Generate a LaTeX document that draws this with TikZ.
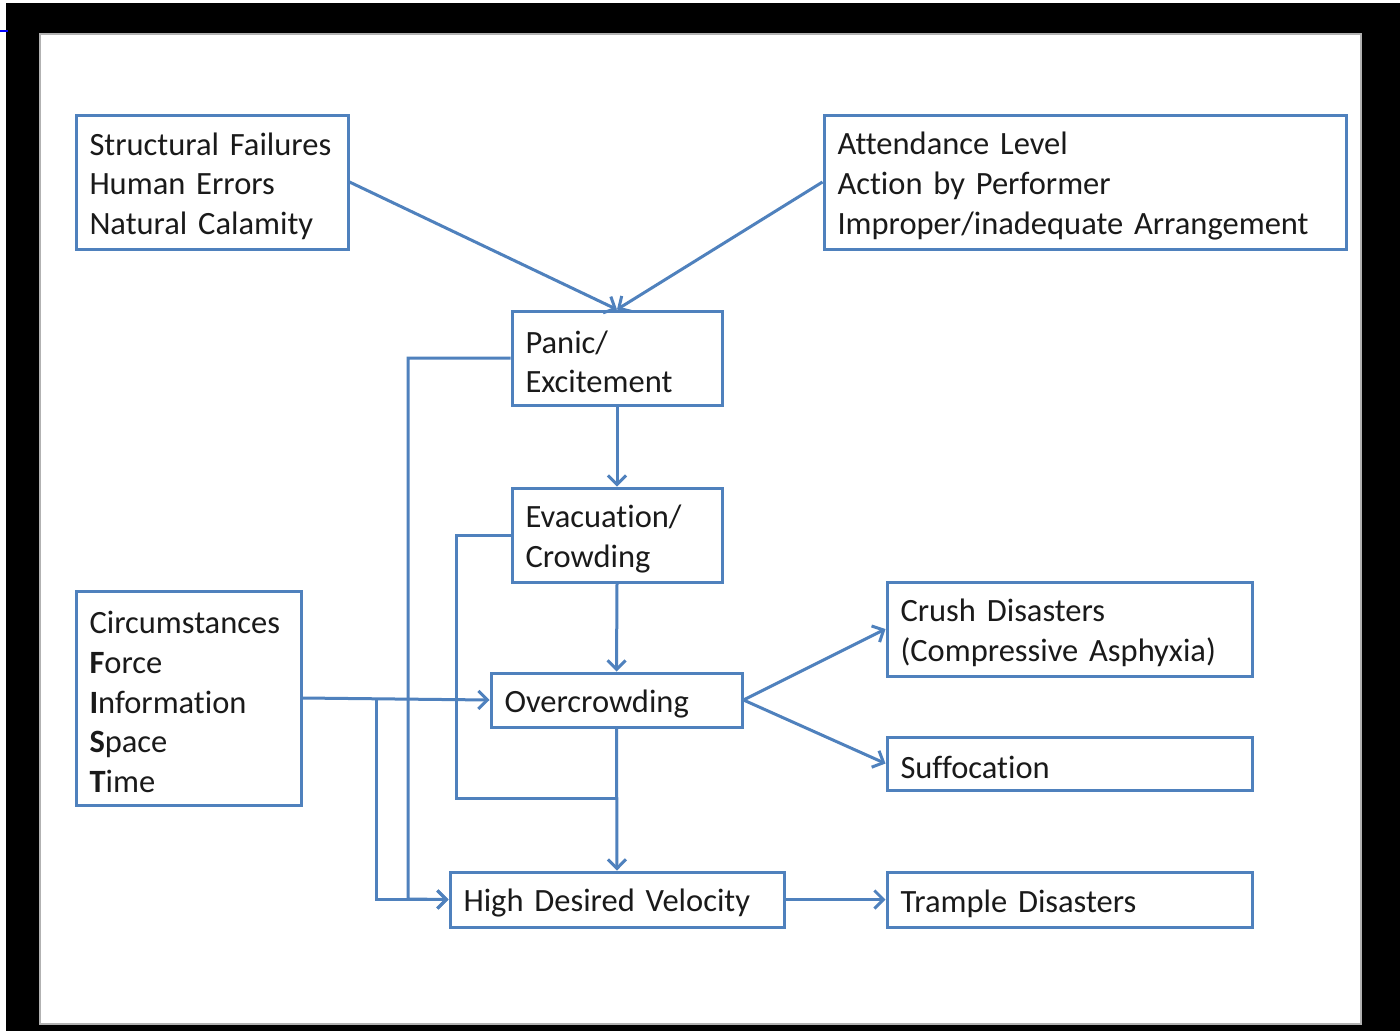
\documentclass[tikz,border=0pt]{standalone}
\usepackage{fontspec}
\setmainfont{Carlito}[Ligatures=NoCommon]
\usetikzlibrary{arrows.meta}
\definecolor{boxblue}{HTML}{4F81BD}
\definecolor{txt}{HTML}{1A1A1A}
\tikzset{
  box/.style={draw=boxblue, line width=3pt, fill=white, inner xsep=12pt, inner ysep=0pt,
    align=left, text=txt, font=\fontsize{32.5}{39.6}\selectfont},
  conn/.style={draw=boxblue, line width=3pt},
  arr/.style={conn, -{Straight Barb[length=9pt,width=18pt,line width=3pt]}}
}
\newcommand{\mkbox}[6]{% name, x1, y1, x2, y2, text
  \pgfmathsetmacro{\bw}{#4-#2}%
  \pgfmathsetmacro{\bh}{#5-#3}%
  \pgfmathsetmacro{\tw}{#4-#2-27}%
  \pgfmathsetmacro{\cx}{(#2+#4)/2}%
  \pgfmathsetmacro{\cy}{(#3+#5)/2+2}%
  \node[box, minimum width=\bw pt, minimum height=\bh pt, text width=\tw pt]
    (#1) at (\cx,\cy) {\hyphenpenalty=10000\rule{0pt}{30.5pt}#6};}
\begin{document}
\begin{tikzpicture}[x=1pt,y=-1pt]
\useasboundingbox (0,0) rectangle (1400,1031);
\fill[white] (0,0) rectangle (1400,1031);
\fill[black] (6,3) rectangle (1400,1031);
\draw[blue, line width=1.2pt] (0,31) -- (8,31);
\filldraw[fill=white, draw=gray!60, line width=2pt] (40,34) rectangle (1361,1024);

\mkbox{b1}{76}{113}{348}{247}{Structural~Failures\\Human Errors\\Natural Calamity}
\mkbox{b2}{824}{113}{1346}{247}{Attendance Level\\Action by Performer\\Improper/inadequate Arrangement}
\mkbox{panic}{512}{309}{722}{403}{Panic/\\Excitement}
\mkbox{evac}{512}{486}{722}{580}{Evacuation/\\Crowding}
\mkbox{over}{491}{671}{742}{725}{Overcrowding}
\mkbox{circ}{76}{589}{301}{803}{Circumstances\\\textbf{F}orce\\\textbf{I}nformation\\\textbf{S}pace\\\textbf{T}ime}
\mkbox{crush}{887}{580}{1252}{674}{Crush Disasters\\(Compressive Asphyxia)}
\mkbox{suff}{887}{735}{1252}{788}{Suffocation}
\mkbox{hdv}{450}{870}{784}{925}{High Desired Velocity}
\mkbox{trample}{887}{870}{1252}{925}{Trample Disasters}

\draw[arr] (b1.east) -- (panic.north);
\draw[arr] (b2.west) -- (panic.north);
\draw[arr] (panic.south) -- (evac.north);
\draw[arr] (evac.south) -- (over.north);
\draw[arr] (panic.west) -| (408,899) -- (hdv.west);
\draw[conn] (evac.west) -| (456,798) -- (617,798);
\draw[arr] (over.south) -- (hdv.north);
\draw[arr] (circ.east) -- (over.west);
\draw[arr] (376,699) |- (hdv.west);
\draw[arr] (over.east) -- (crush.west);
\draw[arr] (over.east) -- (suff.west);
\draw[arr] (hdv.east) -- (trample.west);
\end{tikzpicture}
\end{document}
